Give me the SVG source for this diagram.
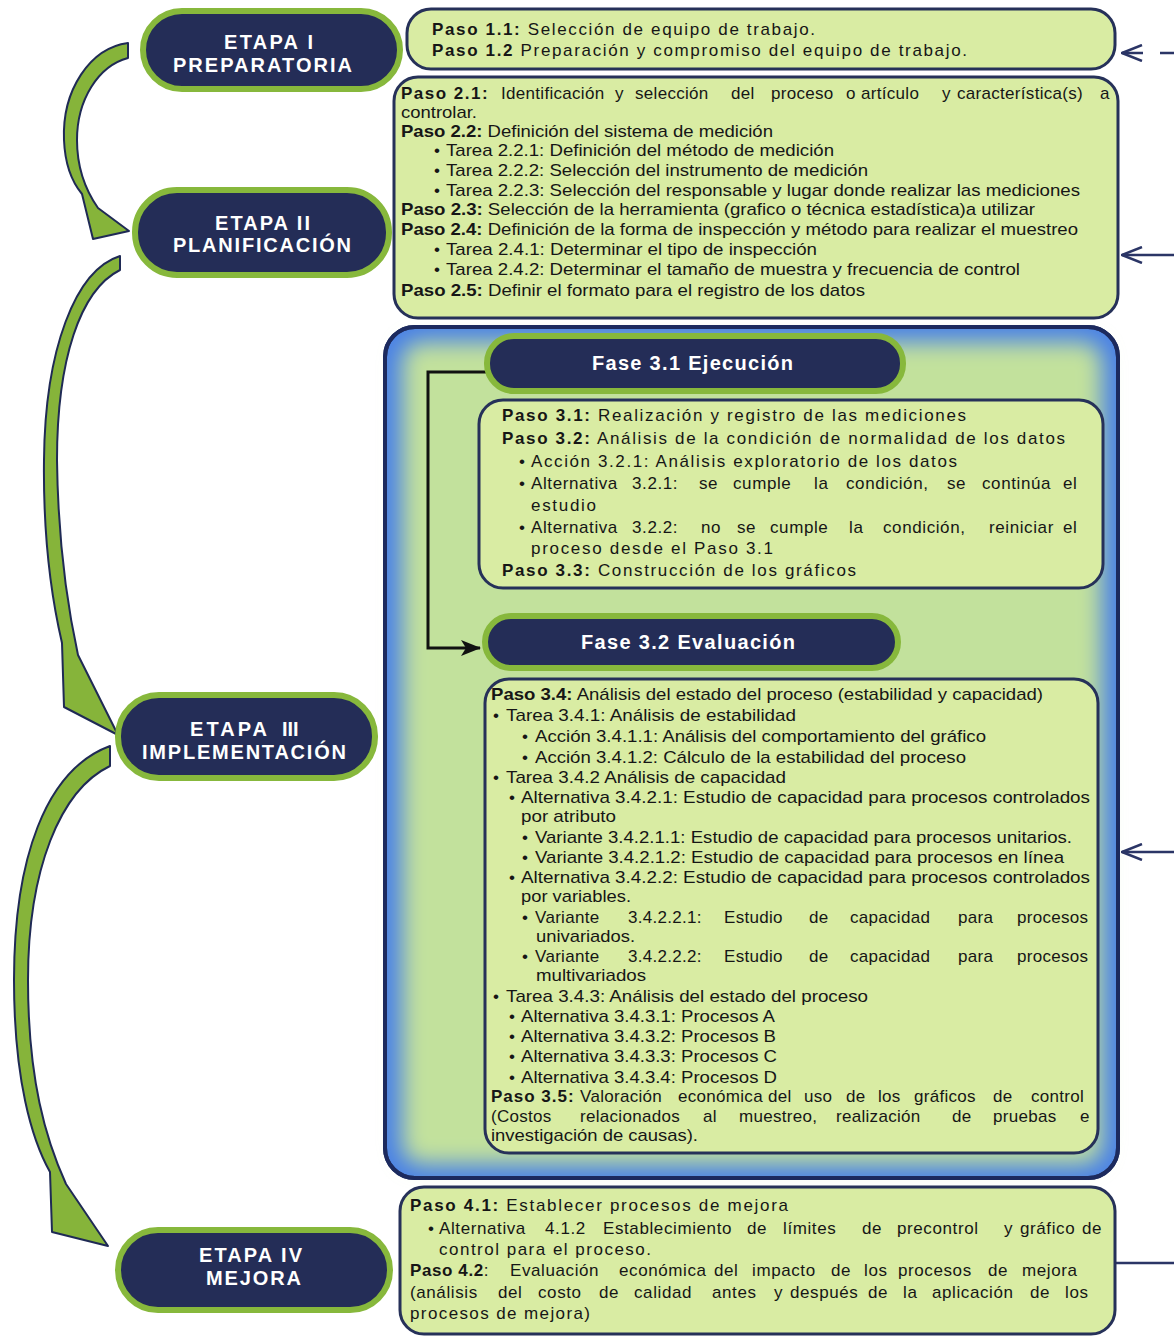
<svg xmlns="http://www.w3.org/2000/svg" width="1174" height="1337" viewBox="0 0 1174 1337">
<style>
.box{fill:#d9eca3;stroke:#263159;stroke-width:3}
.pill{fill:#242d57;stroke:#87b83c;stroke-width:6}
.lbl{font-family:"Liberation Sans",Arial,sans-serif;font-weight:bold;fill:#ffffff;font-size:20px}
.fase{font-family:"Liberation Sans",Arial,sans-serif;font-weight:bold;fill:#ffffff;font-size:20px}
.t{font-family:"Liberation Sans",Arial,sans-serif;fill:#161616;font-size:17px}
.ls{letter-spacing:0.6px}
.ls2{letter-spacing:0.3px}
.b{font-weight:bold}
.arr{fill:#86b43a;stroke:#1f2a55;stroke-width:2;stroke-linejoin:round}
.conn{stroke:#2b3566;stroke-width:2.5;fill:none}
.blk{stroke:#111111;stroke-width:3;fill:none}
</style>
<defs>
<marker id="chev" viewBox="0 0 22 18" refX="21" refY="9" markerWidth="22" markerHeight="18" orient="auto" markerUnits="userSpaceOnUse">
<path d="M1,1 L21,9 L1,17" fill="none" stroke="#2b3566" stroke-width="2.5"/>
</marker>
<marker id="blkhead" viewBox="0 0 20 16" refX="19" refY="8" markerWidth="20" markerHeight="16" orient="auto" markerUnits="userSpaceOnUse">
<path d="M0,0 L20,8 L0,16 L5,8 Z" fill="#111111"/>
</marker>
<filter id="soft" x="-10%" y="-10%" width="120%" height="120%">
<feGaussianBlur stdDeviation="11"/>
</filter>
</defs>

<rect x="0" y="0" width="1174" height="1337" fill="#ffffff"/>

<!-- Blue panel (Etapa III container) -->
<g id="panel3">
<rect x="385" y="327" width="733" height="851" rx="30" fill="#4a82e6" stroke="#1c2a5e" stroke-width="4"/>
<rect x="402" y="342" width="700" height="822" rx="20" fill="#c2e19c" filter="url(#soft)"/>
<rect x="385" y="327" width="733" height="851" rx="30" fill="none" stroke="#1c2a5e" stroke-width="4"/>
</g>

<!-- Connectors -->
<g id="connectors">
<path class="arr" d="M128,43 C90,48 62,90 64,140 C65,165 72,182 82,194 L93,239 L129,231 L98,208 C84,188 77,165 77,140 C77,100 98,66 128,58 Z"/>
<path class="arr" d="M120,256 C75,270 45,350 44,460 C43,540 52,600 62,643 L64,707 L118,735 L78,655 C66,600 58,540 57,460 C57,360 80,290 120,270 Z"/>
<path class="arr" d="M110,746 C45,770 14,860 14,980 C14,1080 32,1140 50,1172 L52,1232 L108,1246 L66,1184 C46,1140 28,1080 28,980 C28,870 60,790 110,766 Z"/>
<path class="conn" d="M1174,53 H1122" stroke-dasharray="14 17 30" marker-end="url(#chev)"/>
<path class="conn" d="M1174,255 H1122" marker-end="url(#chev)"/>
<path class="conn" d="M1174,852 H1122" marker-end="url(#chev)"/>
<path class="conn" d="M1116,1263 H1174"/>
<path class="blk" d="M487,372 H428 V648 H480" marker-end="url(#blkhead)"/>
</g>

<!-- Etapa pills -->
<g id="etapa1">
<rect class="pill" x="143" y="11" width="257" height="78" rx="39"/>
<text class="lbl" x="224" y="49" textLength="89" lengthAdjust="spacing">ETAPA I</text>
<text class="lbl" x="173" y="72" textLength="179" lengthAdjust="spacing">PREPARATORIA</text>
</g>
<g id="etapa2">
<rect class="pill" x="135" y="190" width="254" height="85" rx="42"/>
<text class="lbl" x="215" y="230" textLength="95" lengthAdjust="spacing">ETAPA II</text>
<text class="lbl" x="173" y="252" textLength="178" lengthAdjust="spacing">PLANIFICACIÓN</text>
</g>
<g id="etapa3">
<rect class="pill" x="118" y="695" width="257" height="83" rx="41"/>
<text class="lbl" y="736"><tspan x="190" textLength="77" lengthAdjust="spacing">ETAPA</tspan><tspan x="282">III</tspan></text>
<text class="lbl" x="142" y="759" textLength="204" lengthAdjust="spacing">IMPLEMENTACIÓN</text>
</g>
<g id="etapa4">
<rect class="pill" x="118" y="1230" width="272" height="80" rx="40"/>
<text class="lbl" x="199" y="1262" textLength="103" lengthAdjust="spacing">ETAPA IV</text>
<text class="lbl" x="206" y="1285" textLength="95" lengthAdjust="spacing">MEJORA</text>
</g>

<!-- Box 1 -->
<g id="box1">
<rect class="box" x="407" y="9" width="708" height="60" rx="24"/>
<text class="t" x="432" y="35" textLength="383" lengthAdjust="spacing"><tspan class="b">Paso 1.1:</tspan> Selección de equipo de trabajo.</text>
<text class="t" x="432" y="56" textLength="535" lengthAdjust="spacing"><tspan class="b">Paso 1.2</tspan> Preparación y compromiso del equipo de trabajo.</text>
</g>

<!-- Box 2 -->
<g id="box2">
<rect class="box" x="394" y="77" width="724" height="241" rx="24"/>
<text class="t ls2" y="99"><tspan x="401" class="b" letter-spacing="1.5">Paso 2.1:</tspan> <tspan x="501">Identificación</tspan> <tspan x="615">y</tspan> <tspan x="635">selección</tspan> <tspan x="731">del</tspan> <tspan x="771">proceso</tspan> <tspan x="846">o</tspan> <tspan x="861">artículo</tspan> <tspan x="942">y</tspan> <tspan x="957">característica(s)</tspan> <tspan x="1100">a</tspan></text>
<text class="t" x="401" y="118" textLength="76" lengthAdjust="spacingAndGlyphs">controlar.</text>
<text class="t" x="401" y="137" textLength="372" lengthAdjust="spacingAndGlyphs"><tspan class="b">Paso 2.2:</tspan> Definición del sistema de medición</text>
<text class="t" x="434" y="156">•</text>
<text class="t" x="446" y="156" textLength="388" lengthAdjust="spacingAndGlyphs">Tarea 2.2.1: Definición del método de medición</text>
<text class="t" x="434" y="176">•</text>
<text class="t" x="446" y="176" textLength="422" lengthAdjust="spacingAndGlyphs">Tarea 2.2.2: Selección del instrumento de medición</text>
<text class="t" x="434" y="196">•</text>
<text class="t" x="446" y="196" textLength="634" lengthAdjust="spacingAndGlyphs">Tarea 2.2.3: Selección del responsable y lugar donde realizar las mediciones</text>
<text class="t" x="401" y="215" textLength="634" lengthAdjust="spacingAndGlyphs"><tspan class="b">Paso 2.3:</tspan> Selección de la herramienta (grafico o técnica estadística)a utilizar</text>
<text class="t" x="401" y="235" textLength="677" lengthAdjust="spacingAndGlyphs"><tspan class="b">Paso 2.4:</tspan> Definición de la forma de inspección y método para realizar el muestreo</text>
<text class="t" x="434" y="255">•</text>
<text class="t" x="446" y="255" textLength="371" lengthAdjust="spacingAndGlyphs">Tarea 2.4.1: Determinar el tipo de inspección</text>
<text class="t" x="434" y="275">•</text>
<text class="t" x="446" y="275" textLength="574" lengthAdjust="spacingAndGlyphs">Tarea 2.4.2: Determinar el tamaño de muestra y frecuencia de control</text>
<text class="t" x="401" y="296" textLength="464" lengthAdjust="spacingAndGlyphs"><tspan class="b">Paso 2.5:</tspan> Definir el formato para el registro de los datos</text>
</g>

<!-- Fase 3.1 -->
<g id="fase31">
<rect class="pill" x="487" y="336" width="416" height="55" rx="27"/>
<text class="fase" x="592" y="370" textLength="201" lengthAdjust="spacing">Fase 3.1 Ejecución</text>
</g>

<!-- Box 3.1 -->
<g id="box31">
<rect class="box" x="479" y="400" width="624" height="188" rx="24"/>
<text class="t" x="502" y="421" textLength="464" lengthAdjust="spacing"><tspan class="b">Paso 3.1:</tspan> Realización y registro de las mediciones</text>
<text class="t" x="502" y="444" textLength="563" lengthAdjust="spacing"><tspan class="b">Paso 3.2:</tspan> Análisis de la condición de normalidad de los datos</text>
<text class="t" x="519" y="467">•</text>
<text class="t" x="531" y="467" textLength="426" lengthAdjust="spacing">Acción 3.2.1: Análisis exploratorio de los datos</text>
<text class="t ls" y="489"><tspan x="519">•</tspan><tspan x="531">Alternativa</tspan> <tspan x="632">3.2.1:</tspan> <tspan x="699">se</tspan> <tspan x="733">cumple</tspan> <tspan x="814">la</tspan> <tspan x="846">condición,</tspan> <tspan x="947">se</tspan> <tspan x="982">continúa</tspan> <tspan x="1063">el</tspan></text>
<text class="t" x="531" y="511" textLength="65" lengthAdjust="spacing">estudio</text>
<text class="t ls" y="533"><tspan x="519">•</tspan><tspan x="531">Alternativa</tspan> <tspan x="632">3.2.2:</tspan> <tspan x="701">no</tspan> <tspan x="737">se</tspan> <tspan x="770">cumple</tspan> <tspan x="849">la</tspan> <tspan x="883">condición,</tspan> <tspan x="989">reiniciar</tspan> <tspan x="1063">el</tspan></text>
<text class="t" x="531" y="554" textLength="242" lengthAdjust="spacing">proceso desde el Paso 3.1</text>
<text class="t" x="502" y="576" textLength="354" lengthAdjust="spacing"><tspan class="b">Paso 3.3:</tspan> Construcción de los gráficos</text>
</g>

<!-- Fase 3.2 -->
<g id="fase32">
<rect class="pill" x="485" y="616" width="413" height="52" rx="26"/>
<text class="fase" x="581" y="649" textLength="214" lengthAdjust="spacing">Fase 3.2 Evaluación</text>
</g>

<!-- Box 3.4 -->
<g id="box34">
<rect class="box" x="485" y="679" width="613" height="474" rx="24"/>
<text class="t" x="491" y="700" textLength="552" lengthAdjust="spacingAndGlyphs"><tspan class="b">Paso 3.4:</tspan> Análisis del estado del proceso (estabilidad y capacidad)</text>
<text class="t" x="493" y="721">•</text>
<text class="t" x="506" y="721" textLength="290" lengthAdjust="spacingAndGlyphs">Tarea 3.4.1: Análisis de estabilidad</text>
<text class="t" x="522" y="742">•</text>
<text class="t" x="535" y="742" textLength="451" lengthAdjust="spacingAndGlyphs">Acción 3.4.1.1: Análisis del comportamiento del gráfico</text>
<text class="t" x="522" y="763">•</text>
<text class="t" x="535" y="763" textLength="431" lengthAdjust="spacingAndGlyphs">Acción 3.4.1.2: Cálculo de la estabilidad del proceso</text>
<text class="t" x="493" y="783">•</text>
<text class="t" x="506" y="783" textLength="280" lengthAdjust="spacingAndGlyphs">Tarea 3.4.2 Análisis de capacidad</text>
<text class="t" x="509" y="803">•</text>
<text class="t" x="521" y="803" textLength="569" lengthAdjust="spacingAndGlyphs">Alternativa 3.4.2.1: Estudio de capacidad para procesos controlados</text>
<text class="t" x="521" y="822" textLength="95" lengthAdjust="spacingAndGlyphs">por atributo</text>
<text class="t" x="522" y="843">•</text>
<text class="t" x="535" y="843" textLength="537" lengthAdjust="spacingAndGlyphs">Variante 3.4.2.1.1: Estudio de capacidad para procesos unitarios.</text>
<text class="t" x="522" y="863">•</text>
<text class="t" x="535" y="863" textLength="529" lengthAdjust="spacingAndGlyphs">Variante 3.4.2.1.2: Estudio de capacidad para procesos en línea</text>
<text class="t" x="509" y="883">•</text>
<text class="t" x="521" y="883" textLength="569" lengthAdjust="spacingAndGlyphs">Alternativa 3.4.2.2: Estudio de capacidad para procesos controlados</text>
<text class="t" x="521" y="902" textLength="110" lengthAdjust="spacingAndGlyphs">por variables.</text>
<text class="t ls2" y="923"><tspan x="522">•</tspan><tspan x="535">Variante</tspan> <tspan x="628">3.4.2.2.1:</tspan> <tspan x="724">Estudio</tspan> <tspan x="809">de</tspan> <tspan x="850">capacidad</tspan> <tspan x="958">para</tspan> <tspan x="1017">procesos</tspan></text>
<text class="t" x="536" y="942" textLength="99" lengthAdjust="spacingAndGlyphs">univariados.</text>
<text class="t ls2" y="962"><tspan x="522">•</tspan><tspan x="535">Variante</tspan> <tspan x="628">3.4.2.2.2:</tspan> <tspan x="724">Estudio</tspan> <tspan x="809">de</tspan> <tspan x="850">capacidad</tspan> <tspan x="958">para</tspan> <tspan x="1017">procesos</tspan></text>
<text class="t" x="536" y="981" textLength="110" lengthAdjust="spacingAndGlyphs">multivariados</text>
<text class="t" x="493" y="1002">•</text>
<text class="t" x="506" y="1002" textLength="362" lengthAdjust="spacingAndGlyphs">Tarea 3.4.3: Análisis del estado del proceso</text>
<text class="t" x="509" y="1022">•</text>
<text class="t" x="521" y="1022" textLength="254" lengthAdjust="spacingAndGlyphs">Alternativa 3.4.3.1: Procesos A</text>
<text class="t" x="509" y="1042">•</text>
<text class="t" x="521" y="1042" textLength="255" lengthAdjust="spacingAndGlyphs">Alternativa 3.4.3.2: Procesos B</text>
<text class="t" x="509" y="1062">•</text>
<text class="t" x="521" y="1062" textLength="256" lengthAdjust="spacingAndGlyphs">Alternativa 3.4.3.3: Procesos C</text>
<text class="t" x="509" y="1083">•</text>
<text class="t" x="521" y="1083" textLength="256" lengthAdjust="spacingAndGlyphs">Alternativa 3.4.3.4: Procesos D</text>
<text class="t ls2" y="1102"><tspan x="491" class="b" letter-spacing="1">Paso 3.5:</tspan> <tspan x="580">Valoración</tspan> <tspan x="678">económica</tspan> <tspan x="768">del</tspan> <tspan x="804">uso</tspan> <tspan x="846">de</tspan> <tspan x="878">los</tspan> <tspan x="914">gráficos</tspan> <tspan x="993">de</tspan> <tspan x="1031">control</tspan></text>
<text class="t ls2" y="1122"><tspan x="491">(Costos</tspan> <tspan x="580">relacionados</tspan> <tspan x="703">al</tspan> <tspan x="739">muestreo,</tspan> <tspan x="836">realización</tspan> <tspan x="952">de</tspan> <tspan x="993">pruebas</tspan> <tspan x="1080">e</tspan></text>
<text class="t" x="491" y="1141" textLength="207" lengthAdjust="spacingAndGlyphs">investigación de causas).</text>
</g>

<!-- Box 4 -->
<g id="box4">
<rect class="box" x="400" y="1187" width="715" height="147" rx="24"/>
<text class="t" x="410" y="1211" textLength="378" lengthAdjust="spacing"><tspan class="b">Paso 4.1:</tspan> Establecer procesos de mejora</text>
<text class="t ls" y="1234"><tspan x="428">•</tspan><tspan x="439">Alternativa</tspan> <tspan x="545">4.1.2</tspan> <tspan x="603">Establecimiento</tspan> <tspan x="747">de</tspan> <tspan x="783">límites</tspan> <tspan x="862">de</tspan> <tspan x="897">precontrol</tspan> <tspan x="1004">y</tspan> <tspan x="1020">gráfico</tspan> <tspan x="1082">de</tspan></text>
<text class="t" x="439" y="1255" textLength="212" lengthAdjust="spacing">control para el proceso.</text>
<text class="t ls" y="1276"><tspan x="410" class="b">Paso 4.2</tspan><tspan>:</tspan> <tspan x="510">Evaluación</tspan> <tspan x="619">económica</tspan> <tspan x="714">del</tspan> <tspan x="752">impacto</tspan> <tspan x="831">de</tspan> <tspan x="864">los</tspan> <tspan x="898">procesos</tspan> <tspan x="988">de</tspan> <tspan x="1022">mejora</tspan></text>
<text class="t ls" y="1298"><tspan x="410">(análisis</tspan> <tspan x="498">del</tspan> <tspan x="538">costo</tspan> <tspan x="599">de</tspan> <tspan x="634">calidad</tspan> <tspan x="712">antes</tspan> <tspan x="774">y</tspan> <tspan x="790">después</tspan> <tspan x="868">de</tspan> <tspan x="903">la</tspan> <tspan x="932">aplicación</tspan> <tspan x="1030">de</tspan> <tspan x="1065">los</tspan></text>
<text class="t" x="410" y="1319" textLength="180" lengthAdjust="spacing">procesos de mejora)</text>
</g>
</svg>
